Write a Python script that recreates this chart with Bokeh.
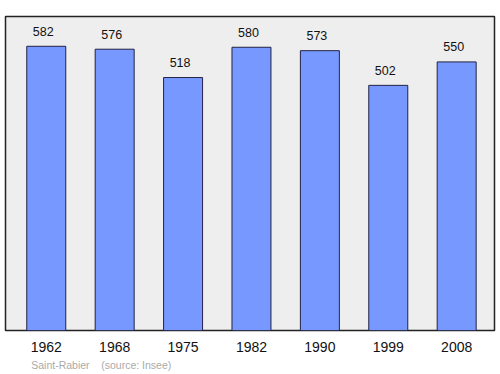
from bokeh.plotting import figure
from bokeh.models import ColumnDataSource, LabelSet, Title, FixedTicker, Range1d
from bokeh.core.properties import value
from bokeh.embed import file_html
from bokeh.resources import INLINE

years = ["1962", "1968", "1975", "1982", "1990", "1999", "2008"]
population = [582, 576, 518, 580, 573, 502, 550]
commune = "Saint-Rabier"
source_note = "(source: Insee)"

xs = list(range(len(years)))
src = ColumnDataSource(dict(x=xs, top=population, label=[str(v) for v in population]))

p = figure(width=500, height=374, output_backend="svg", toolbar_location=None,
           x_range=Range1d(-0.596, 6.553), y_range=Range1d(0, 643),
           min_border_left=5, min_border_right=6, min_border_top=16, min_border_bottom=44)
p.background_fill_color = "#eeeeee"
p.border_fill_color = "white"
p.outline_line_color = "#222222"
p.outline_line_width = 1.5
p.grid.visible = False
p.yaxis.visible = False

p.vbar(x="x", top="top", bottom=0, width=0.57, source=src,
       fill_color="#7799ff", line_color="#222244", line_width=1)

labels = LabelSet(x="x", y="top", text="label", source=src, x_offset=-3, y_offset=15,
                  text_align="center", text_baseline="middle",
                  text_font=value("Liberation Sans"), text_font_size=value("12.5px"),
                  text_color="#111111")
p.add_layout(labels)

ax = p.xaxis[0]
ax.ticker = FixedTicker(ticks=xs)
ax.major_label_overrides = {i: y for i, y in enumerate(years)}
ax.axis_line_color = None
ax.major_tick_line_color = None
ax.minor_tick_line_color = None
ax.major_tick_out = 0
ax.major_tick_in = 0
ax.major_label_standoff = 11
ax.major_label_text_font = "Liberation Sans"
ax.major_label_text_font_size = "14px"
ax.major_label_text_color = "#111111"

note = Title(text=commune + "\u00a0\u00a0\u00a0\u00a0" + source_note, align="left", offset=25.7,
             standoff=4, text_font="Liberation Sans", text_font_size="10.5px",
             text_font_style="normal", text_color="#aaaaaa")
p.add_layout(note, "below")

open("out.html", "w").write(file_html(p, INLINE))
